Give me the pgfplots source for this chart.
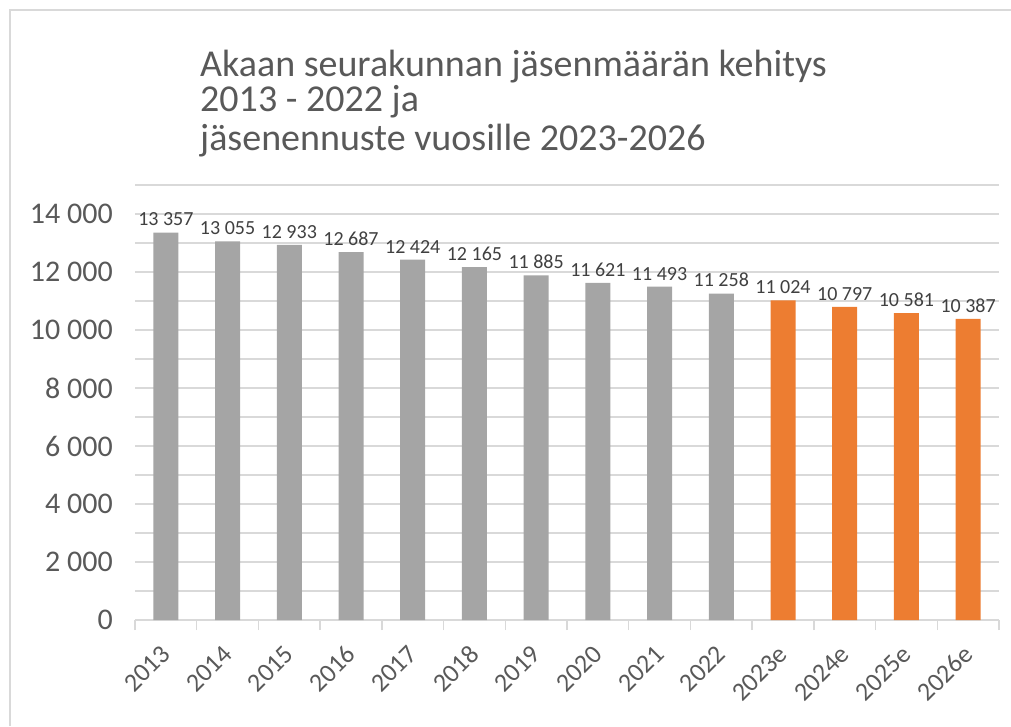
\documentclass[border=0pt]{standalone}
\usepackage{fontspec}
\setmainfont{Carlito}
\usepackage{pgfplots}
\pgfplotsset{compat=1.18}
\definecolor{txt}{HTML}{595959}
\definecolor{lbl}{HTML}{404040}
\definecolor{grd}{HTML}{D9D9D9}
\definecolor{barg}{HTML}{A5A5A5}
\definecolor{baro}{HTML}{ED7D31}
\begin{document}
\begin{tikzpicture}[x=1pt,y=1pt]
\useasboundingbox (0,0) rectangle (1011,726);
\draw[grd, line width=1.5pt] (10,0) -- (10,716) -- (1011,716);
\node[anchor=base west, inner sep=0, text=txt, font=\fontsize{38}{42}\selectfont] at (200,649) {Akaan seurakunnan jäsenmäärän kehitys};
\node[anchor=base west, inner sep=0, text=txt, font=\fontsize{38}{42}\selectfont] at (200,614) {2013 - 2022 ja};
\node[anchor=base west, inner sep=0, text=txt, font=\fontsize{38}{42}\selectfont] at (200,575) {jäsenennuste vuosille 2023-2026};
\begin{axis}[
  at={(135pt,106pt)}, anchor=south west, scale only axis,
  width=864pt, height=435pt,
  xmin=-0.5, xmax=13.5, ymin=0, ymax=15000,
  scaled y ticks=false,
  ybar, bar width=25pt, bar shift=0pt,
  axis x line*=bottom, axis y line*=left,
  x axis line style={grd, line width=1.5pt, -},
  y axis line style={draw=none},
  xtick={-0.5,0.5,...,13.5}, xticklabels={},
  major tick length=10pt, tick align=outside,
  x tick style={grd, line width=1.5pt},
  extra x ticks={0,1,...,13},
  extra x tick labels={2013,2014,2015,2016,2017,2018,2019,2020,2021,2022,2023e,2024e,2025e,2026e},
  extra x tick style={major tick length=0pt},
  xticklabel style={font=\fontsize{26}{30}\selectfont, text=txt, inner sep=0pt, yshift=-30pt, rotate=45, anchor=east},
  ytick={0,2000,...,14000},
  yticklabels={0,2 000,4 000,6 000,8 000,10 000,12 000,14 000},
  minor ytick={1000,3000,...,15000},
  ymajorgrids, yminorgrids,
  major grid style={grd, line width=1.5pt},
  minor grid style={grd, line width=1.5pt},
  y tick style={draw=none},
  yticklabel style={font=\fontsize{30}{34}\selectfont, text=txt, inner sep=0pt, xshift=-12pt},
  nodes near coords, point meta=explicit symbolic,
  nodes near coords style={font=\fontsize{20}{23}\selectfont, text=lbl, yshift=3pt},
  clip=false
]
\addplot[fill=barg, draw=none] coordinates {
  (0,13357) [13 357]
  (1,13055) [13 055]
  (2,12933) [12 933]
  (3,12687) [12 687]
  (4,12424) [12 424]
  (5,12165) [12 165]
  (6,11885) [11 885]
  (7,11621) [11 621]
  (8,11493) [11 493]
  (9,11258) [11 258]
};
\addplot[fill=baro, draw=none] coordinates {
  (10,11024) [11 024]
  (11,10797) [10 797]
  (12,10581) [10 581]
  (13,10387) [10 387]
};
\end{axis}
\end{tikzpicture}
\end{document}
